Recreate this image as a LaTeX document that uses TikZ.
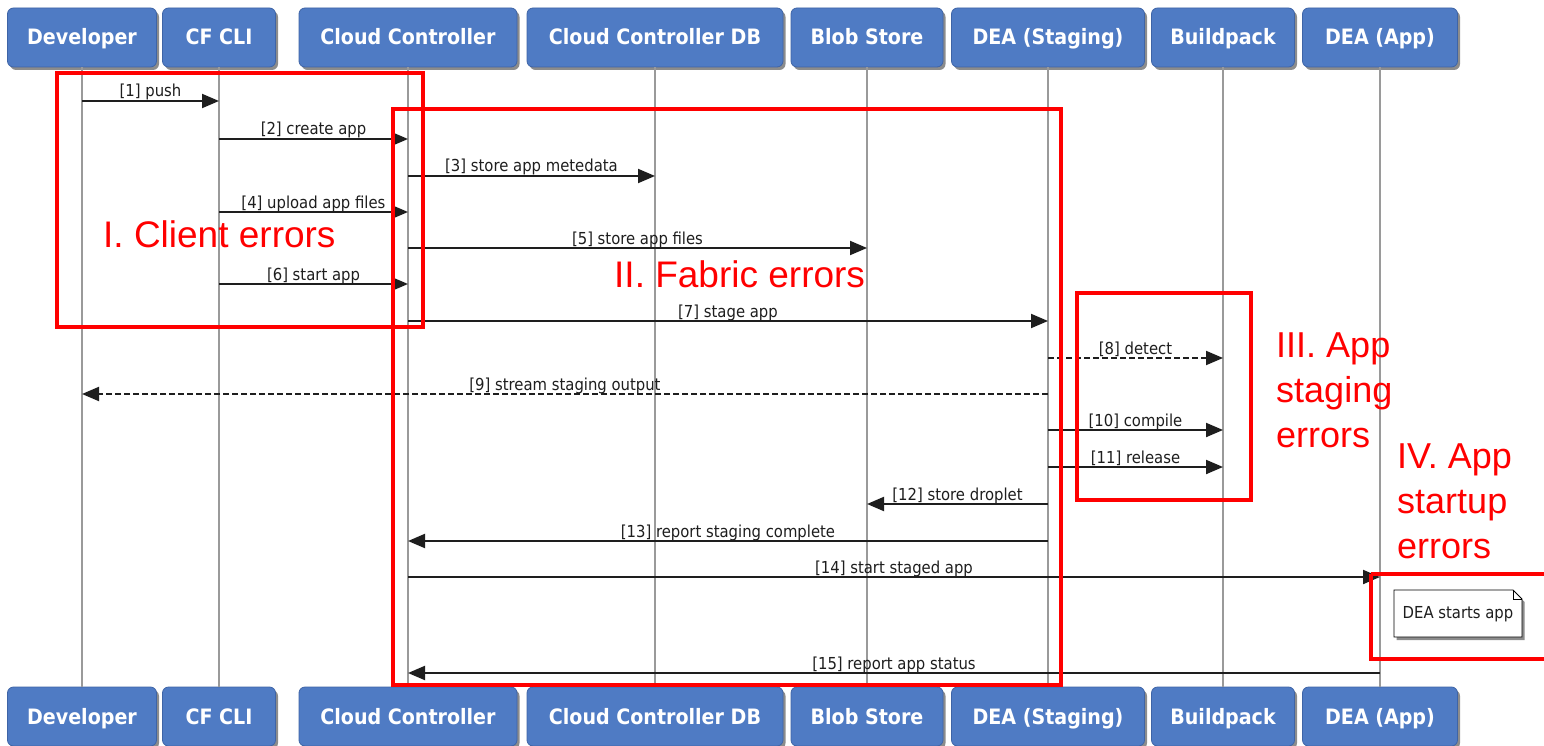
\documentclass[tikz,border=0pt]{standalone}
\usepackage{fontspec}
\setmainfont{Liberation Sans}
\newfontfamily\lblfont{DejaVu Sans Condensed}
\usetikzlibrary{arrows.meta,shadows,calc}
\definecolor{partblue}{HTML}{4F7BC4}
\definecolor{partborder}{HTML}{3E64A6}
\definecolor{lifegray}{HTML}{9A9A9A}
\definecolor{msgcol}{HTML}{1E1E1E}
\definecolor{errred}{HTML}{FF0000}
\begin{document}
\begin{tikzpicture}[x=1pt,y=-1pt,
  part/.style={draw=partborder, line width=0.8pt, fill=partblue, rounded corners=6pt,
    minimum height=59pt, inner sep=0pt, text=white, text height=17pt, text depth=2pt,
    font=\lblfont\bfseries\fontsize{21.2}{24}\selectfont,
    drop shadow={shadow xshift=2.5pt, shadow yshift=-3pt, opacity=0.45, fill=black}},
  life/.style={draw=lifegray, line width=2pt},
  msg/.style={draw=msgcol, line width=2pt, -{Triangle[length=17pt,width=14pt]}},
  rmsg/.style={msg, dash pattern=on 6pt off 3pt},
  lbl/.style={anchor=base, yshift=4pt, font=\lblfont\fontsize{16.5}{19}\selectfont,
    text=msgcol, inner sep=0pt},
  errbox/.style={draw=errred, line width=4pt},
  errtxt/.style={text=errred, font=\fontsize{36}{45}\selectfont, align=left,
    inner sep=0pt, anchor=base west},
  notebg/.style={draw=black, line width=0.8pt, fill=white,
    drop shadow={shadow xshift=2.5pt, shadow yshift=-3pt, opacity=0.45, fill=black}},
  notetxt/.style={font=\lblfont\fontsize{16.5}{19}\selectfont, text=msgcol, inner sep=0pt}
]
\useasboundingbox (0,0) rectangle (1544,746);
\fill[white] (0,0) rectangle (1544,746);

% participants top
\node[part, minimum width=149pt] (devT)  at (82,37.5)   {Developer};
\node[part, minimum width=113pt] (cliT)  at (219,37.5)  {CF CLI};
\node[part, minimum width=218pt] (ccT)   at (408,37.5)  {Cloud Controller};
\node[part, minimum width=256pt] (dbT)   at (655,37.5)  {Cloud Controller DB};
\node[part, minimum width=152pt] (blobT) at (867,37.5)  {Blob Store};
\node[part, minimum width=193pt] (dsT)   at (1048,37.5) {DEA (Staging)};
\node[part, minimum width=143pt] (bpT)   at (1223,37.5) {Buildpack};
\node[part, minimum width=155pt] (daT)   at (1380,37.5) {DEA (App)};
% participants bottom
\node[part, minimum width=149pt] (devB)  at (82,716.5)   {Developer};
\node[part, minimum width=113pt] (cliB)  at (219,716.5)  {CF CLI};
\node[part, minimum width=218pt] (ccB)   at (408,716.5)  {Cloud Controller};
\node[part, minimum width=256pt] (dbB)   at (655,716.5)  {Cloud Controller DB};
\node[part, minimum width=152pt] (blobB) at (867,716.5)  {Blob Store};
\node[part, minimum width=193pt] (dsB)   at (1048,716.5) {DEA (Staging)};
\node[part, minimum width=143pt] (bpB)   at (1223,716.5) {Buildpack};
\node[part, minimum width=155pt] (daB)   at (1380,716.5) {DEA (App)};

% lifelines
\draw[life] (devT.south) -- (devB.north);
\draw[life] (cliT.south) -- (cliB.north);
\draw[life] (ccT.south) -- (ccB.north);
\draw[life] (dbT.south) -- (dbB.north);
\draw[life] (blobT.south) -- (blobB.north);
\draw[life] (dsT.south) -- (dsB.north);
\draw[life] (bpT.south) -- (bpB.north);
\draw[life] (daT.south) -- (daB.north);

% messages
\draw[msg]  (devT.south |- 0,101) -- node[lbl]{[1] push} (cliT.south |- 0,101);
\draw[msg]  (cliT.south |- 0,139) -- node[lbl]{[2] create app} (ccT.south |- 0,139);
\draw[msg]  (ccT.south |- 0,176) -- node[lbl]{[3] store app metedata} (dbT.south |- 0,176);
\draw[msg]  (cliT.south |- 0,212) -- node[lbl]{[4] upload app files} (ccT.south |- 0,212);
\draw[msg]  (ccT.south |- 0,248) -- node[lbl]{[5] store app files} (blobT.south |- 0,248);
\draw[msg]  (cliT.south |- 0,284) -- node[lbl]{[6] start app} (ccT.south |- 0,284);
\draw[msg]  (ccT.south |- 0,321) -- node[lbl]{[7] stage app} (dsT.south |- 0,321);
\draw[rmsg] (dsT.south |- 0,358) -- node[lbl]{[8] detect} (bpT.south |- 0,358);
\draw[rmsg] (dsT.south |- 0,394) -- node[lbl]{[9] stream staging output} (devT.south |- 0,394);
\draw[msg]  (dsT.south |- 0,430) -- node[lbl]{[10] compile} (bpT.south |- 0,430);
\draw[msg]  (dsT.south |- 0,467) -- node[lbl]{[11] release} (bpT.south |- 0,467);
\draw[msg]  (dsT.south |- 0,504) -- node[lbl]{[12] store droplet} (blobT.south |- 0,504);
\draw[msg]  (dsT.south |- 0,541) -- node[lbl]{[13] report staging complete} (ccT.south |- 0,541);
\draw[msg]  (ccT.south |- 0,577) -- node[lbl]{[14] start staged app} (daT.south |- 0,577);
\draw[msg]  (daT.south |- 0,673) -- node[lbl]{[15] report app status} (ccT.south |- 0,673);

% note
\path[notebg] (1394,590) -- (1513,590) -- (1522,599) -- (1522,637) -- (1394,637) -- cycle;
\draw[line width=0.8pt] (1513,590) -- (1513,599) -- (1522,599);
\node[notetxt] (note) at (1458,614) {DEA starts app};

% error boxes
\draw[errbox] (57,73) rectangle (423,327);
\draw[errbox] (393,109.5) rectangle (1061,685);
\draw[errbox] (1077,293) rectangle (1251,500);
\draw[errbox] (1371,574) -- (1550,574) (1371,574) -- (1371,659) -- (1550,659);

% error labels
\node[errtxt, font=\fontsize{37}{45}\selectfont] (e1) at (103,247) {I. Client errors};
\node[errtxt, font=\fontsize{37}{45}\selectfont] (e2) at (614,287) {II. Fabric errors};
\node[errtxt] (e3) at (1276,447) {III. App\\staging\\errors};
\node[errtxt] (e4) at (1397,558) {IV. App\\startup\\errors};
\end{tikzpicture}
\end{document}
